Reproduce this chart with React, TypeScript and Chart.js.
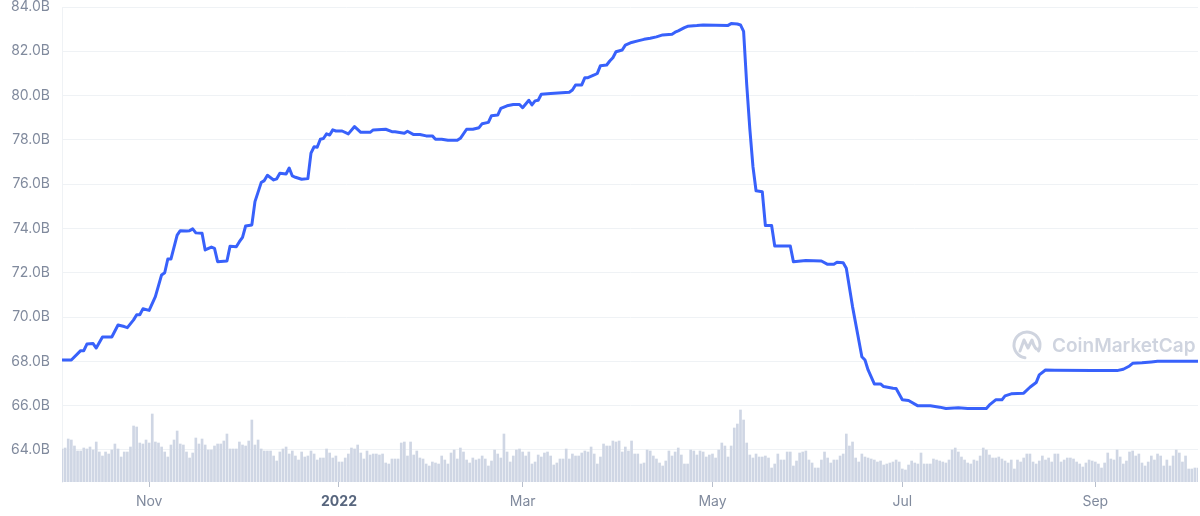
import React, { useEffect, useRef } from "react";
import { Chart, registerables } from "chart.js";

Chart.register(...registerables);

// Days counted from 2021-10-04
const tickDays = [28, 89, 148, 209, 270, 332];
const tickLabels = ["Nov", "2022", "Mar", "May", "Jul", "Sep"];
const yTicks = [64, 66, 68, 70, 72, 74, 76, 78, 80, 82, 84];

const capDays = [
  0, 3, 6, 7, 8, 10, 11, 13, 16, 18, 20, 21, 23, 24, 25, 26, 28, 30, 32, 33, 34, 35, 37, 38, 40, 41, 42, 43, 45, 46,
  48, 49, 50, 53, 54, 56, 57, 58, 59, 61, 62, 64, 65, 66, 68, 69, 70, 72, 73, 74, 75, 77, 79, 80, 81, 82, 83, 84, 85, 86,
  87, 88, 90, 92, 94, 96, 99, 100, 104, 106, 107, 110, 111, 113, 115, 117, 119, 120, 122, 124, 127, 128, 130, 132, 134,
  135, 137, 138, 140, 141, 143, 145, 147, 148, 150, 151, 152, 153, 154, 157, 163, 164, 165, 167, 168, 169, 171, 172, 173,
  175, 176, 177, 178, 180, 181, 183, 185, 187, 189, 191, 193, 196, 197, 198, 200, 201, 204, 206, 210, 214, 215, 217, 218,
  219, 220, 221, 222, 223, 225, 226, 228, 229, 234, 235, 239, 244, 246, 248, 249, 251, 252, 254, 257, 258, 259, 261, 263,
  264, 267, 268, 270, 272, 275, 279, 282, 284, 288, 291, 297, 298, 300, 302, 303, 305, 309, 311, 313, 314, 316, 319, 331,
  339, 341, 343, 344, 347, 350, 352, 365,
];

// Market cap in billions USD
const capValues = [
  68.06, 68.06, 68.48, 68.48, 68.78, 68.8, 68.6, 69.1, 69.1, 69.64, 69.57, 69.52, 69.87, 70.1, 70.1, 70.37, 70.3, 70.92,
  71.9, 72.0, 72.62, 72.62, 73.7, 73.9, 73.88, 73.9, 73.98, 73.8, 73.78, 73.03, 73.16, 73.1, 72.5, 72.53, 73.2, 73.17,
  73.4, 73.6, 74.11, 74.16, 75.21, 76.07, 76.16, 76.4, 76.19, 76.24, 76.49, 76.46, 76.73, 76.37, 76.31, 76.22, 76.25,
  77.4, 77.69, 77.67, 78.03, 78.06, 78.27, 78.22, 78.45, 78.4, 78.4, 78.27, 78.6, 78.34, 78.34, 78.45, 78.48, 78.37,
  78.37, 78.3, 78.39, 78.24, 78.24, 78.18, 78.18, 78.03, 78.03, 77.98, 77.98, 78.07, 78.48, 78.48, 78.55, 78.73, 78.79,
  79.09, 79.12, 79.42, 79.54, 79.6, 79.6, 79.45, 79.79, 79.58, 79.76, 79.79, 80.06, 80.09, 80.15, 80.25, 80.48, 80.48,
  80.81, 80.81, 80.93, 81.0, 81.35, 81.38, 81.56, 81.71, 81.98, 82.06, 82.28, 82.4, 82.47, 82.54, 82.59, 82.65, 82.74,
  82.77, 82.86, 82.92, 83.07, 83.13, 83.16, 83.19, 83.18, 83.17, 83.25, 83.23, 83.19, 82.9, 80.5, 78.5, 76.8, 75.7,
  75.66, 74.13, 74.13, 73.21, 73.21, 72.5, 72.55, 72.53, 72.38, 72.38, 72.47, 72.45, 72.2, 70.47, 68.21, 68.06, 67.61,
  66.98, 66.98, 66.86, 66.78, 66.77, 66.26, 66.23, 65.99, 65.99, 65.93, 65.87, 65.9, 65.87, 65.87, 66.03, 66.26, 66.26,
  66.44, 66.53, 66.56, 66.83, 67.04, 67.39, 67.61, 67.6, 67.58, 67.58, 67.64, 67.79, 67.91, 67.93, 67.97, 68.0, 68.0,
];

// Daily volume (billions USD), one per day from day 0
const volumes = [
  33, 34, 43, 42, 36, 31, 31, 34, 33, 35, 32, 40, 30, 26, 30, 28, 32, 38, 33, 25, 30, 30, 35, 56, 55, 39, 38, 42, 39, 68,
  40, 39, 35, 30, 25, 37, 42, 51, 38, 37, 30, 24, 29, 44, 38, 43, 37, 32, 32, 36, 38, 38, 41, 48, 33, 33, 33, 40, 37, 36,
  41, 62, 37, 42, 33, 31, 31, 31, 26, 21, 30, 33, 35, 28, 31, 26, 22, 30, 25, 26, 31, 28, 22, 24, 24, 33, 29, 24, 26, 20,
  20, 24, 28, 34, 33, 37, 29, 23, 31, 27, 28, 28, 27, 28, 19, 18, 23, 23, 23,
  39, 40, 26, 40, 27, 31, 24, 23, 18, 16, 20, 19, 18, 26, 22, 18, 29, 32, 23, 34, 30, 22, 19, 24, 22, 23, 26, 23, 16, 21,
  32, 28, 24, 48, 30, 20, 26, 32, 33, 30, 26, 30, 18, 20, 27, 25, 29, 30, 26, 17, 19, 23, 23, 33, 23, 28, 26, 26, 29, 31,
  30, 35, 28, 18, 25, 38, 36, 36, 41, 40, 41, 30, 35, 31, 41, 28, 28, 18, 19, 32, 31, 26, 23, 19, 16, 21, 31, 26, 30, 34,
  27, 18, 18, 32, 31, 27, 31, 30, 25, 27, 28, 24, 32, 39, 36, 25, 36, 54, 58, 72, 62, 39, 27, 24, 28, 25, 25, 26, 24, 14,
  18, 28, 22, 22, 30, 30, 16, 21,
  29, 30, 31, 22, 19, 14, 14, 22, 30, 24, 19, 22, 22, 26, 28, 48, 36, 40, 24, 20, 28, 25, 24, 23, 22, 20, 21, 17, 18, 19,
  20, 22, 20, 13, 12, 17, 21, 19, 18, 29, 18, 18, 18, 23, 22, 21, 20, 19, 22, 32, 34, 30, 25, 22, 19, 18, 22, 21, 26, 34,
  32, 27, 24, 24, 25, 23, 21, 19, 22, 13, 22, 20, 24, 28, 28, 20, 18, 21, 26, 22, 24, 20, 28, 28, 20, 22, 24, 24, 23, 20,
  18, 15, 19, 22, 21, 20, 18, 14, 19, 29, 23, 22, 32, 25, 18, 21, 30, 31, 26, 28, 19, 16, 20, 26, 22, 28, 26, 16, 22, 16,
  26, 32, 29, 20, 26, 13, 13, 14, 14,
];

const LINE_COLOR = "#3861fb";
const BAR_COLOR = "#cfd6e4";
const LABEL_COLOR = "#808a9d";
const GRID_COLOR = "#eff2f5";
const MARK_COLOR = "#cfd4df";

const watermark = {
  id: "watermark",
  beforeDatasetsDraw(chart: any) {
    const { ctx, chartArea } = chart;
    const cx = chartArea.right - 171;
    const cy = chartArea.top + 338;
    ctx.save();
    ctx.strokeStyle = MARK_COLOR;
    ctx.fillStyle = MARK_COLOR;
    ctx.lineWidth = 3;
    ctx.lineCap = "round";
    ctx.lineJoin = "round";
    ctx.beginPath();
    ctx.arc(cx, cy, 13, 0.55 * Math.PI, 2.15 * Math.PI);
    ctx.stroke();
    ctx.beginPath();
    ctx.moveTo(cx - 7, cy + 6);
    ctx.lineTo(cx - 3, cy - 5);
    ctx.lineTo(cx + 1, cy + 3);
    ctx.lineTo(cx + 5, cy - 5);
    ctx.quadraticCurveTo(cx + 8, cy + 6, cx + 12, cy + 4);
    ctx.stroke();
    ctx.font = "600 19px Inter, 'Noto Sans', sans-serif";
    ctx.textBaseline = "middle";
    ctx.textAlign = "left";
    ctx.fillText("CoinMarketCap", cx + 25, cy + 1);
    ctx.restore();
  },
};

export default function App() {
  const canvasRef = useRef<HTMLCanvasElement | null>(null);

  useEffect(() => {
    document.body.style.margin = "0";
    const canvas = canvasRef.current;
    if (!canvas) return;
    const lineData = capDays.map((d, i) => ({ x: d, y: capValues[i] }));
    const barData = volumes.map((v, i) => ({ x: i, y: v }));

    const chart = new Chart(canvas, {
      type: "bar",
      data: {
        datasets: [
          {
            type: "line",
            data: lineData,
            borderColor: LINE_COLOR,
            borderWidth: 3,
            pointRadius: 0,
            tension: 0,
            borderJoinStyle: "round",
            borderCapStyle: "round",
            yAxisID: "y",
            order: 0,
          } as any,
          {
            type: "bar",
            data: barData,
            backgroundColor: BAR_COLOR,
            barThickness: 2,
            yAxisID: "y2",
            order: 1,
          } as any,
        ],
      },
      options: {
        animation: false,
        responsive: false,
        devicePixelRatio: 1,
        layout: { padding: { left: 0, right: 2, top: 0, bottom: 0 } },
        plugins: { legend: { display: false }, tooltip: { enabled: false } },
        scales: {
          x: {
            type: "linear",
            min: 0,
            max: 365,
            offset: false,
            afterBuildTicks: (scale: any) => {
              scale.ticks = tickDays.map((v) => ({ value: v }));
            },
            afterFit: (scale: any) => {
              scale.height = 34;
            },
            border: { display: false },
            grid: {
              offset: false,
              drawOnChartArea: false,
              drawTicks: true,
              tickLength: 5,
              color: "#b8bfcc",
            },
            ticks: {
              autoSkip: false,
              maxRotation: 0,
              padding: 6,
              callback: (v: any) => {
                const i = tickDays.indexOf(Number(v));
                return i >= 0 ? tickLabels[i] : "";
              },
              color: (ctx: any) => (ctx.tick && ctx.tick.value === 89 ? "#58667e" : LABEL_COLOR),
              font: (ctx: any) => ({
                family: "Inter, 'Noto Sans', sans-serif",
                size: 14,
                weight: ctx.tick && ctx.tick.value === 89 ? "bold" : "normal",
              }),
            },
          } as any,
          y: {
            type: "linear",
            position: "left",
            min: 62.55,
            max: 84,
            afterBuildTicks: (scale: any) => {
              scale.ticks = yTicks.map((v) => ({ value: v }));
            },
            afterFit: (scale: any) => {
              scale.width = 62;
              scale.paddingTop = 7;
              scale.paddingBottom = 0;
            },
            border: { display: true, color: GRID_COLOR, width: 1 },
            grid: { color: GRID_COLOR, drawTicks: false, lineWidth: 1 },
            ticks: {
              padding: 12,
              color: LABEL_COLOR,
              font: { family: "Inter, 'Noto Sans', sans-serif", size: 14 },
              callback: (v: any) => `${Number(v).toFixed(1)}B`,
            },
          } as any,
          y2: {
            type: "linear",
            display: false,
            min: 0,
            max: 475,
          },
        },
      },
      plugins: [watermark],
    });
    return () => chart.destroy();
  }, []);

  return (
    <div style={{ position: "absolute", left: 0, top: 0, width: 1200, height: 516, background: "#fff" }}>
      <canvas ref={canvasRef} width={1200} height={516} />
    </div>
  );
}
